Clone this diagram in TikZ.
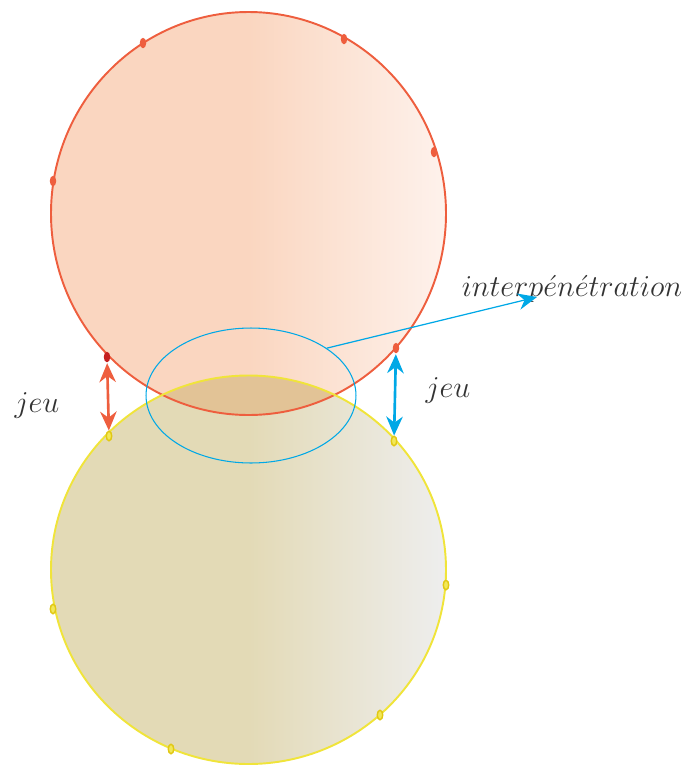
\documentclass[tikz,border=0pt]{standalone}
\usepackage{tikz}
\usetikzlibrary{arrows.meta,shapes.geometric}
\definecolor{rouge}{RGB}{238,94,62}
\definecolor{fonce}{RGB}{196,32,32}
\definecolor{peche}{RGB}{250,214,192}
\definecolor{pechec}{RGB}{254,242,236}
\definecolor{jaune}{RGB}{240,228,58}
\definecolor{jaunef}{RGB}{225,200,20}
\definecolor{kaki}{RGB}{227,218,182}
\definecolor{grisc}{RGB}{238,238,238}
\definecolor{commun}{RGB}{226,195,150}
\definecolor{bleu}{RGB}{0,168,230}
\begin{document}
\begin{tikzpicture}[x=0.02cm,y=-0.02cm,line width=1.1pt,>={Stealth[length=3.8mm,width=3.3mm]},
  pr/.style={ellipse,fill=rouge,inner sep=0pt,minimum width=1.3mm,minimum height=2.1mm},
  pj/.style={ellipse,fill=jaune!85!white,draw=jaunef,line width=0.8pt,inner sep=0pt,minimum width=1.1mm,minimum height=1.9mm},
  lab/.style={text=black!80,font=\LARGE}]
  \useasboundingbox (0,0) rectangle (692,765);
  % disque du bas
  \shade[left color=kaki,right color=grisc,middle color=kaki] (248.5,569.75) ellipse (197.5 and 194.25);
  % disque du haut
  \shade[left color=peche,right color=pechec,middle color=peche] (248.5,213.5) ellipse (197.5 and 201.5);
  % partie commune
  \begin{scope}
    \clip (248.5,569.75) ellipse (197.5 and 194.25);
    \fill[commun] (248.5,213.5) ellipse (197.5 and 201.5);
  \end{scope}
  \draw[rouge] (248.5,213.5) ellipse (197.5 and 201.5);
  \draw[jaune] (248.5,569.75) ellipse (197.5 and 194.25);
  % zone d'interpenetration
  \node[ellipse,draw=bleu,line width=0.6pt,inner sep=0pt,minimum width=4.2cm,minimum height=2.7cm] (zone) at (251,395.5) {};
  % points du haut
  \node[pr] (h1) at (143,43) {};
  \node[pr] (h2) at (344,39) {};
  \node[pr] (h3) at (434,152) {};
  \node[pr] (h4) at (53,181) {};
  \node[pr,fill=fonce] (h5) at (107,357) {};
  \node[pr] (h6) at (396,348) {};
  % points du bas
  \node[pj] (b1) at (109,436) {};
  \node[pj] (b2) at (394,441) {};
  \node[pj] (b3) at (446,585) {};
  \node[pj] (b4) at (53,609) {};
  \node[pj] (b5) at (380,715) {};
  \node[pj] (b6) at (171,749) {};
  % jeux
  \draw[<->,rouge,line width=1.5pt] (h5) -- (b1);
  \draw[<->,bleu,line width=1.5pt] (h6) -- (b2);
  \node[lab] (jeug) at (37,405) {$jeu$};
  \node[lab] (jeud) at (448,390) {$jeu$};
  % legende
  \node[lab] (inter) at (572,289) {$interp\acute{e}n\acute{e}tration$};
  \coordinate (pointe) at (537,297);
  \draw[->,bleu,line width=0.7pt] (zone.32) -- (pointe);
\end{tikzpicture}
\end{document}
